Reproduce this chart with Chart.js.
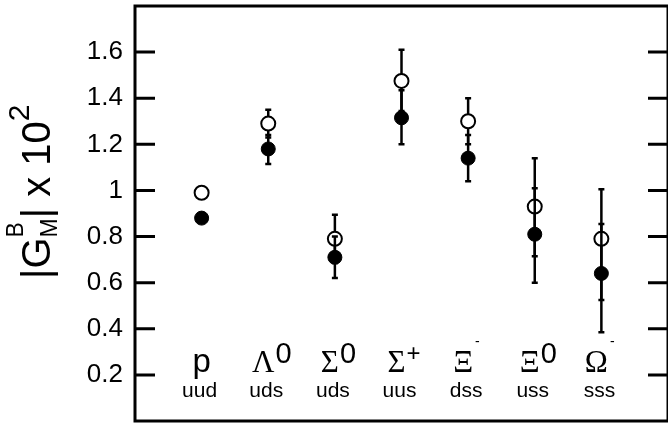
<!DOCTYPE html>
<html>
<head>
<meta charset="utf-8">
<script src="https://cdn.jsdelivr.net/npm/chart.js@4.4.1/dist/chart.umd.min.js"></script>
<style>
  html, body { margin: 0; padding: 0; background: #fff; overflow: hidden; }
  canvas { display: block; }
</style>
</head>
<body>
<canvas id="baryonChart" width="668" height="423"></canvas>
<script>
// baryons along the x axis
const baryons = ['p', 'Λ', 'Σ', 'Σ', 'Ξ', 'Ξ', 'Ω'];
const charges = ['', '0', '0', '+', '-', '0', '-'];
const quarks = ['uud', 'uds', 'uds', 'uus', 'dss', 'uss', 'sss'];

// open circles
const openVals = [0.99, 1.29, 0.79, 1.475, 1.30, 0.93, 0.79];
const openErrUp = [0, 0.06, 0.105, 0.135, 0.10, 0.21, 0.215];
const openErrDown = [0, 0.06, 0.105, 0.13, 0.10, 0.215, 0.265];

// filled circles
const filledVals = [0.88, 1.18, 0.71, 1.315, 1.14, 0.81, 0.64];
const filledErrUp = [0, 0.06, 0.09, 0.12, 0.10, 0.20, 0.215];
const filledErrDown = [0, 0.065, 0.09, 0.115, 0.10, 0.21, 0.255];

const yTicks = [0.2, 0.4, 0.6, 0.8, 1, 1.2, 1.4, 1.6];

Chart.defaults.font.family = '"Liberation Sans", Arial, sans-serif';
Chart.defaults.color = '#000';

// box round the plot + inward tick marks on both sides
const frame = {
  id: 'frame',
  beforeDatasetsDraw(chart) {
    const { ctx, chartArea: a, scales: { y } } = chart;
    ctx.save();
    ctx.strokeStyle = '#000';
    ctx.lineWidth = 3;
    ctx.strokeRect(a.left, a.top, a.right - a.left, a.bottom - a.top);
    ctx.beginPath();
    y.ticks.forEach(t => {
      const py = y.getPixelForValue(t.value);
      ctx.moveTo(a.left, py); ctx.lineTo(a.left + 20, py);
      ctx.moveTo(a.right - 20, py); ctx.lineTo(a.right, py);
    });
    ctx.stroke();
    ctx.restore();
  }
};

// error bars, drawn just before each dataset's points
const errorBars = {
  id: 'errorBars',
  beforeDatasetDraw(chart, args) {
    const ds = chart.data.datasets[args.index];
    const xs = chart.scales.x, ys = chart.scales.y;
    const ctx = chart.ctx;
    ctx.save();
    ctx.strokeStyle = '#000';
    ctx.lineWidth = 2.5;
    ds.data.forEach((p, i) => {
      const up = ds.errUp[i], down = ds.errDown[i];
      if (!up && !down) return;
      const x = xs.getPixelForValue(p.x);
      const yTop = ys.getPixelForValue(p.y + up);
      const yBot = ys.getPixelForValue(p.y - down);
      ctx.beginPath();
      ctx.moveTo(x, yTop); ctx.lineTo(x, yBot);
      ctx.moveTo(x - 3, yTop); ctx.lineTo(x + 3, yTop);
      ctx.moveTo(x - 3, yBot); ctx.lineTo(x + 3, yBot);
      ctx.stroke();
    });
    ctx.restore();
  }
};

// baryon names with charge superscripts and quark content
const baryonLabels = {
  id: 'baryonLabels',
  afterDatasetsDraw(chart) {
    const { ctx, scales: { x } } = chart;
    const supStyle = {
      '0': { font: '29px "Liberation Sans"', base: 363, gap: 1 },
      '+': { font: '24px "Liberation Sans"', base: 361, gap: 1 },
      '-': { font: '14px "Liberation Sans"', base: 346, gap: 2 }
    };
    ctx.save();
    ctx.fillStyle = '#000';
    ctx.textBaseline = 'alphabetic';
    baryons.forEach((name, i) => {
      const cx = x.getPixelForValue(i);
      const sup = charges[i];
      ctx.font = name === 'p' ? '33px "Liberation Sans"' : '31px "Liberation Serif"';
      ctx.textAlign = 'left';
      const w = ctx.measureText(name).width;
      const bx = cx - (sup ? 5 : 0) - w / 2;
      ctx.fillText(name, bx, 372);
      if (sup) {
        const s = supStyle[sup];
        ctx.font = s.font;
        ctx.fillText(sup, bx + w + s.gap, s.base);
      }
      ctx.font = '21px "Liberation Sans"';
      ctx.textAlign = 'center';
      ctx.fillText(quarks[i], cx - 2, 397);
    });
    ctx.restore();
  }
};

// rotated y title |G_M^B| x 10^2
const yTitle = {
  id: 'yTitle',
  afterDraw(chart) {
    const ctx = chart.ctx;
    const main = '40px "Liberation Sans"', small = '23px "Liberation Sans"';
    ctx.save();
    ctx.translate(50, 279);
    ctx.rotate(-Math.PI / 2);
    ctx.fillStyle = '#000';
    ctx.textAlign = 'left';
    ctx.textBaseline = 'alphabetic';
    let px = 0;
    ctx.font = main;
    ctx.fillText('|G', px, 0);
    px += ctx.measureText('|G').width;
    ctx.font = small;
    ctx.fillText('B', px, -27);
    ctx.fillText('M', px, 7);
    px += ctx.measureText('M').width;
    ctx.font = main;
    ctx.fillText('| x 10', px, 0);
    px += ctx.measureText('| x 10').width;
    ctx.font = '30px "Liberation Sans"';
    ctx.fillText('2', px, -21);
    ctx.restore();
  }
};

new Chart(document.getElementById('baryonChart'), {
  type: 'scatter',
  data: {
    datasets: [
      {
        label: 'filled',
        data: filledVals.map((v, i) => ({ x: i, y: v })),
        errUp: filledErrUp,
        errDown: filledErrDown,
        pointRadius: 7,
        pointBackgroundColor: '#000',
        pointBorderColor: '#000',
        pointBorderWidth: 1
      },
      {
        label: 'open',
        data: openVals.map((v, i) => ({ x: i, y: v })),
        errUp: openErrUp,
        errDown: openErrDown,
        pointRadius: 7,
        pointBackgroundColor: '#fff',
        pointBorderColor: '#000',
        pointBorderWidth: 2
      }
    ]
  },
  options: {
    responsive: false,
    animation: false,
    // right edge of the box sits just past the picture
    layout: { autoPadding: false, padding: { top: 6, bottom: 2, right: -5, left: 0 } },
    plugins: {
      legend: { display: false },
      tooltip: { enabled: false }
    },
    scales: {
      x: { type: 'linear', min: -1, max: 7, display: false },
      y: {
        min: 0,
        max: 1.8,
        afterBuildTicks: s => { s.ticks = yTicks.map(v => ({ value: v })); },
        afterFit: s => {
          s.width = 135;
          s.paddingTop = 0;
          s.paddingBottom = 0;
        },
        grid: { display: false, drawTicks: false },
        border: { display: false },
        ticks: {
          color: '#000',
          padding: 12,
          font: { size: 26 },
          callback: v => String(v)
        }
      }
    }
  },
  plugins: [frame, errorBars, baryonLabels, yTitle]
});
</script>
</body>
</html>
